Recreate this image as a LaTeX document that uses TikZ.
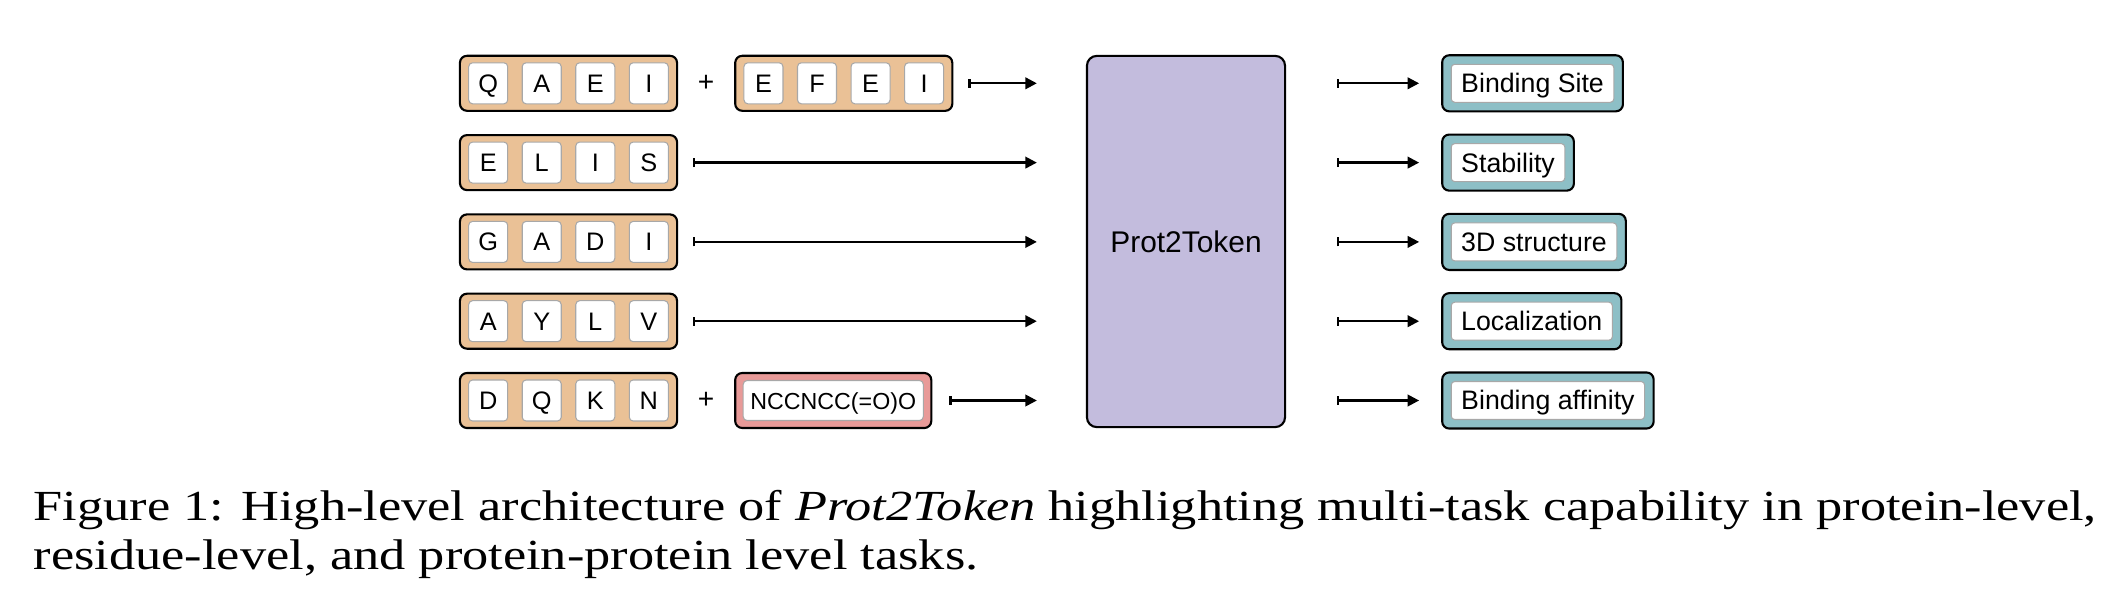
\documentclass[tikz,border=0pt]{standalone}
\usepackage{fontspec}
\setmainfont{Liberation Sans}
\newfontfamily\capfont[FakeStretch=1.22]{Liberation Serif}
\usetikzlibrary{arrows.meta,positioning,fit,backgrounds,calc}

\definecolor{seqtan}{HTML}{EAC196}
\definecolor{ligred}{HTML}{E89A98}
\definecolor{tokpurple}{HTML}{C3BCDD}
\definecolor{taskteal}{HTML}{8DBFC6}
\definecolor{cellgray}{HTML}{A8A8A8}

\tikzset{
  seqbox/.style={draw, line width=0.6pt, rounded corners=2pt, fill=seqtan, minimum width=2.17cm, minimum height=0.55cm},
  res/.style={draw=cellgray, line width=0.3pt, fill=white, rounded corners=1.1pt, minimum width=0.39cm, minimum height=0.41cm, inner sep=0pt, text height=5.1pt, text depth=0pt, font=\fontsize{7.2}{8}\selectfont},
  feed/.style={line width=0.65pt, {Bar[width=2.6pt]}-{Triangle[length=3.3pt,width=3.3pt]}},
  task/.style={draw=cellgray, line width=0.3pt, fill=white, rounded corners=1pt, minimum height=0.38cm, inner xsep=0.1cm, inner ysep=0pt, text height=5.4pt, text depth=0pt, font=\fontsize{7.6}{9}\selectfont, anchor=west},
  taskbox/.style={draw, line width=0.6pt, rounded corners=2pt, fill=taskteal, inner sep=0.085cm}
}

\begin{document}
\begin{tikzpicture}[x=0.01cm, y=-0.01cm]
  \useasboundingbox (0,0) rectangle (2108,612);

  % protein sequences
  \foreach \a/\b/\c/\d [count=\r] in {Q/A/E/I, E/L/I/S, G/A/D/I, A/Y/L/V, D/Q/K/N}{
    \node[seqbox] (seq\r) at (568.5, {83.3+(\r-1)*79.3}) {};
    \foreach \l [count=\i] in {\a,\b,\c,\d}
      \node[res] (seq\r-\i) at ([xshift={(\i-2.5)*0.535cm}]seq\r.center) {\l};
  }

  % second protein and ligand
  \node[seqbox, right=0.56cm of seq1] (partner) {};
  \foreach \l [count=\i] in {E,F,E,I}
    \node[res] (partner-\i) at ([xshift={(\i-2.5)*0.535cm}]partner.center) {\l};
  \node[font=\fontsize{8}{9}\selectfont] (plus1) at ($(seq1.east)!0.5!(partner.west)$) {+};

  \node[seqbox, fill=ligred, minimum width=1.96cm, right=0.56cm of seq5] (lig) {};
  \node[res, minimum width=1.8cm, minimum height=0.40cm, font=\fontsize{6.6}{8}\selectfont] (smiles) at (lig) {NCCNCC(=O)O};
  \node[font=\fontsize{8}{9}\selectfont] (plus5) at ($(seq5.east)!0.5!(lig.west)$) {+};

  \node[draw, line width=0.6pt, rounded corners=2.8pt, fill=tokpurple, minimum width=1.98cm, minimum height=3.71cm, font=\fontsize{8.5}{10}\selectfont] (token) at (1186, 241.5) {Prot2Token};

  % inputs
  \draw[feed] ([xshift=0.15cm]partner.east) -- ([xshift=-0.49cm]token.west |- partner.east);
  \foreach \r in {2,3,4}
    \draw[feed] ([xshift=0.15cm]seq\r.east) -- ([xshift=-0.49cm]token.west |- seq\r.east);
  \draw[feed] ([xshift=0.17cm]lig.east) -- ([xshift=-0.49cm]token.west |- lig.east);

  % tasks
  \foreach \t [count=\r] in {Binding Site, Stability, 3D structure, Localization, Binding affinity}{
    \node[task] (task\r) at (1450.7, {83.3+(\r-1)*79.3}) {\t};
    \begin{scope}[on background layer]
      \node[taskbox, fit=(task\r)] (out\r) {};
    \end{scope}
    \draw[feed] ([xshift=0.51cm]token.east |- task\r.west) -- ([xshift=-0.22cm]out\r.west);
  }

  \node[anchor=base west, inner sep=0pt, align=left, font=\capfont\fontsize{12.2}{13.9}\selectfont] (caption) at (33, 569)
    {Figure 1: High-level architecture of \textit{Prot2Token} highlighting multi-task capability in protein-level,\\
     residue-level, and protein-protein level tasks.};
\end{tikzpicture}
\end{document}
